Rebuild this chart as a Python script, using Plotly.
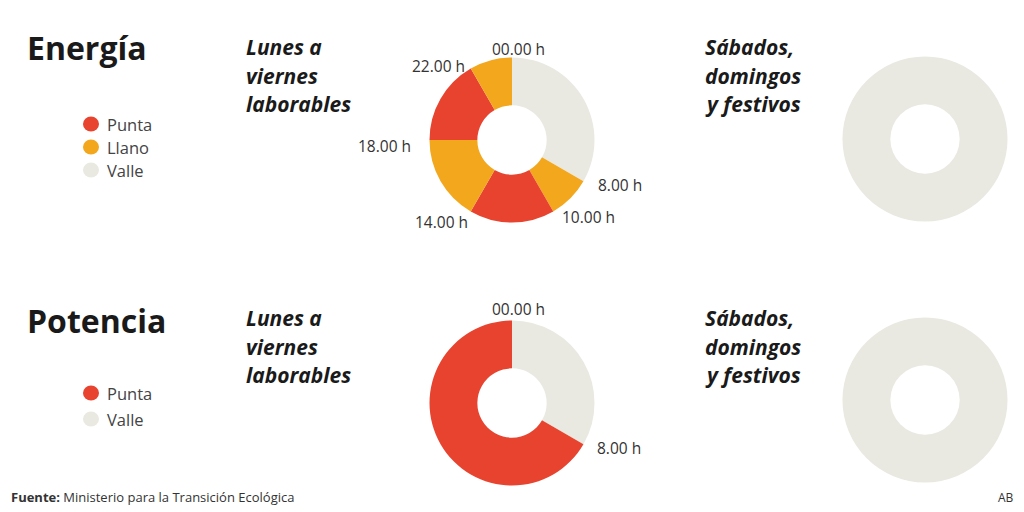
import plotly.graph_objects as go

W, H = 1024, 512

# ---- data ----
energia_tramos = ["00-08 h", "08-10 h", "10-14 h", "14-18 h", "18-22 h", "22-24 h"]
energia_periodos = ["Valle", "Llano", "Punta", "Llano", "Punta", "Llano"]
energia_horas = [8, 2, 4, 4, 4, 2]
potencia_tramos = ["00-08 h", "08-24 h"]
potencia_periodos = ["Valle", "Punta"]
potencia_horas = [8, 16]
finde_tramos = ["00-24 h"]
finde_periodos = ["Valle"]
finde_horas = [24]

energia_leyenda = ["Punta", "Llano", "Valle"]
potencia_leyenda = ["Punta", "Valle"]

colores = {"Punta": "#E8432F", "Llano": "#F3A71D", "Valle": "#E9E9E1"}


def px(x):
    return x / W


def py(y):
    return 1 - y / H


fig = go.Figure()


def donut(tramos, periodos, values, cx, cy, d=165):
    fig.add_trace(go.Pie(
        labels=tramos, values=values, sort=False, direction="clockwise",
        rotation=0, hole=0.42, textinfo="none",
        customdata=periodos, hovertemplate="%{label}: %{customdata}<extra></extra>",
        marker=dict(colors=[colores[p] for p in periodos], line=dict(width=0)),
        domain=dict(x=[px(cx - d / 2), px(cx + d / 2)], y=[py(cy + d / 2), py(cy - d / 2)]),
        showlegend=False,
    ))


donut(energia_tramos, energia_periodos, energia_horas, 512, 140)
donut(finde_tramos, finde_periodos, finde_horas, 925, 139)
donut(potencia_tramos, potencia_periodos, potencia_horas, 512, 403)
donut(finde_tramos, finde_periodos, finde_horas, 925, 400)

ann = []
shapes = []


def text(x, y, t, size, color="#1a1a1a", family="Open Sans", xanchor="left", bold=False, italic=False):
    if bold:
        t = "<b>" + t + "</b>"
    if italic:
        t = "<i>" + t + "</i>"
    ann.append(dict(x=px(x), y=py(y), xref="paper", yref="paper", text=t, showarrow=False,
                    xanchor=xanchor, yanchor="middle", font=dict(size=size, color=color, family=family)))


# titles
text(25, 47, "Energía", 32, bold=True)
text(25, 320, "Potencia", 32, bold=True)


# legends
def legend(items, y0, dy):
    for i, name in enumerate(items):
        y = y0 + i * dy
        shapes.append(dict(type="circle", xref="paper", yref="paper",
                           x0=px(83), x1=px(99), y0=py(y + 7.5), y1=py(y - 7.5),
                           fillcolor=colores[name], line=dict(width=0)))
        text(105, y, name, 16.5, color="#444444")


legend(energia_leyenda, 124, 23)
legend(potencia_leyenda, 393, 26)

# subtitles
for y0 in (47, 318):
    for i, line in enumerate(["Lunes a", "viernes", "laborables"]):
        text(244, y0 + i * 28.5, line, 21, bold=True, italic=True)
    for i, line in enumerate(["Sábados,", "domingos", "y festivos"]):
        text(703, y0 + i * 28.5, line, 21, bold=True, italic=True)

# hour labels
hours_top = [(518, 49, "00.00 h"), (438, 66, "22.00 h"), (384, 146, "18.00 h"),
             (620, 185, "8.00 h"), (588, 217, "10.00 h"), (441, 222, "14.00 h")]
hours_bottom = [(518, 309, "00.00 h"), (619, 448, "8.00 h")]
for x, y, t in hours_top + hours_bottom:
    text(x, y, t, 15.5, color="#333333", xanchor="center")

# footer
text(9, 497, "<b>Fuente:</b> Ministerio para la Transición Ecológica", 13, color="#333333")
text(1016, 497, "AB", 12, color="#333333", xanchor="right")

fig.update_layout(width=W, height=H, margin=dict(l=0, r=0, t=0, b=0),
                  paper_bgcolor="white", plot_bgcolor="white",
                  annotations=ann, shapes=shapes)

fig.write_html("out.html")
